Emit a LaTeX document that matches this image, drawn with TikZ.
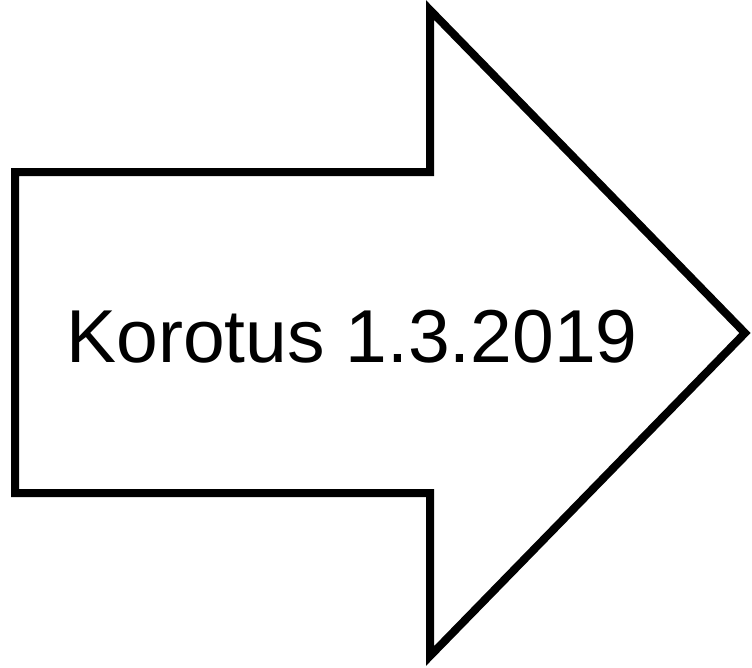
\documentclass[tikz,border=0pt]{standalone}
\usepackage{fontspec}
\setmainfont{Liberation Sans}
\usetikzlibrary{positioning,calc}

\begin{document}
\begin{tikzpicture}[
    x=1pt, y=-1pt,
    bigarrow/.style={draw=black, line width=8pt, line join=miter, fill=white},
    label/.style={font=\fontsize{75}{80}\selectfont, anchor=base, inner sep=0pt},
]
    \useasboundingbox (0,0) rectangle (752,667);
    % Arrow outline
    \coordinate (bodyTL) at (15,172);
    \coordinate (headT) at (430,10);
    \coordinate (tip) at (745,333);
    \coordinate (headB) at (430,656);
    \coordinate (bodyBL) at (15,493);
    \draw[bigarrow] (bodyTL) -- (430,172) -- (headT) -- (tip) -- (headB)
        -- (430,493) -- (bodyBL) -- cycle;
    % Label
    \node[label] (korotus) at (352,362) {Korotus 1.3.2019};
\end{tikzpicture}
\end{document}
